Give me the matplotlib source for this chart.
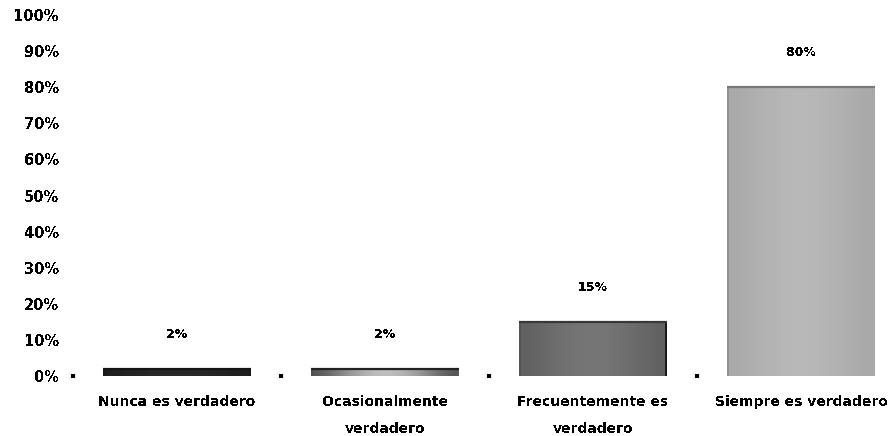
import numpy as np
import matplotlib
matplotlib.use("Agg")
import matplotlib.pyplot as plt
from matplotlib.ticker import FixedLocator, PercentFormatter

# ── Data ──────────────────────────────────────────────────────────────────────
categories = ["Nunca es verdadero", "Ocasionalmente\nverdadero",
              "Frecuentemente es\nverdadero", "Siempre es verdadero"]
percent = [2, 2, 15, 80]
value_labels = ["2%", "2%", "15%", "80%"]

# ── Shading per bar: (left edge, side, centre, right edge, top line) grey ─────
shades = [(0.10, 0.12, 0.16, 0.10, 0.08),
          (0.30, 0.33, 0.74, 0.35, 0.13),
          (0.33, 0.38, 0.46, 0.10, 0.22),
          (0.58, 0.66, 0.72, 0.66, 0.47)]

plt.rcParams["text.antialiased"] = False
plt.rcParams["font.family"] = "DejaVu Sans"

fig = plt.figure(figsize=(8.93, 4.36), dpi=100)
ax = fig.add_axes([73 / 893, 60 / 436, 832 / 893, 361 / 436])

x = np.arange(len(categories))
width = 0.71


def bar_profile(left, side, centre, right, n=148):
    t = np.linspace(0, 1, n)
    prof = side + (centre - side) * np.sin(np.pi * t) ** 1.5
    prof[:2] = left
    prof[-2:] = right
    return prof


for i, v in enumerate(percent):
    l, s, c, r, top = shades[i]
    img = np.tile(bar_profile(l, s, c, r), (8, 1))
    ax.imshow(img, cmap="gray", vmin=0, vmax=1, aspect="auto", interpolation="nearest",
              extent=(x[i] - width / 2, x[i] + width / 2, 0, v), zorder=2)
    ax.plot([x[i] - width / 2, x[i] + width / 2], [v, v], color=str(top),
            linewidth=1.6, zorder=3, solid_capstyle="butt")
    ax.annotate(value_labels[i], (x[i], v), xytext=(0, 28), textcoords="offset pixels",
                ha="center", va="bottom", fontsize=9, fontweight="bold")

ax.set_xlim(-0.5, len(categories) - 0.5)
ax.set_ylim(0, 100)
ax.set_yticks(np.arange(0, 101, 10))
ax.yaxis.set_major_formatter(PercentFormatter(decimals=0))
ax.tick_params(axis="y", length=0, pad=10, labelsize=10.5)
for lab in ax.get_yticklabels():
    lab.set_fontweight("bold")

ax.set_xticks(x)
ax.set_xticklabels(categories, fontsize=10, fontweight="bold", linespacing=2.1, va="top")
ax.tick_params(axis="x", which="major", length=0, pad=14)
ax.xaxis.set_minor_locator(FixedLocator(np.arange(-0.5, len(categories) - 1, 1.0)))
ax.tick_params(axis="x", which="minor", length=3, width=3, direction="inout", color="black")

for sp in ax.spines.values():
    sp.set_visible(False)

fig.savefig("out.png", dpi=100)
